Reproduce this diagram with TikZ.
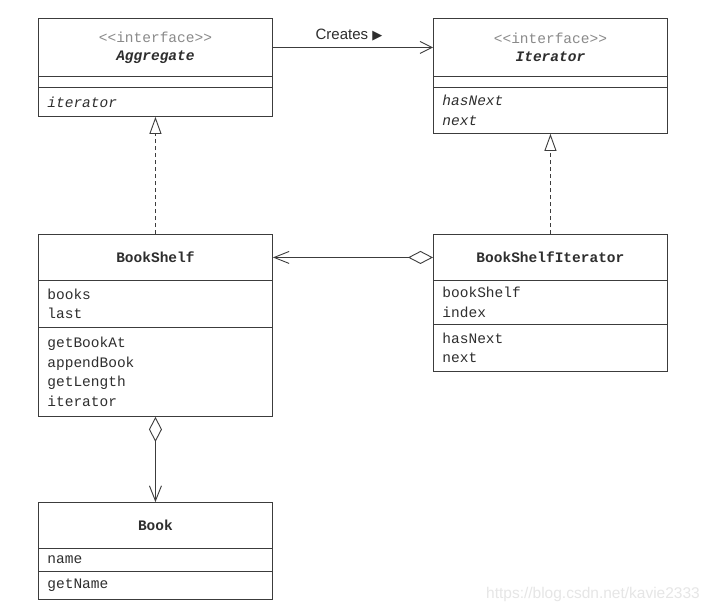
\documentclass[tikz,border=0pt]{standalone}
\usepackage{fontspec}
\setmainfont{Liberation Sans}
\setmonofont{Liberation Mono}
\newfontfamily\symfont{DejaVu Sans}
\usetikzlibrary{arrows.meta}
\definecolor{ink}{HTML}{3C3C3C}
\definecolor{txt}{HTML}{2E2E2E}
\definecolor{stereo}{HTML}{8A8A8A}
\definecolor{wmark}{HTML}{E6E6E6}
\begin{document}
\begin{tikzpicture}[x=1pt,y=-1pt,
  comp/.style={draw=ink, line width=0.9pt, rectangle, inner sep=0pt,
    minimum width=234pt, anchor=north west, text=txt,
    font=\ttfamily\fontsize{14.5}{18}\selectfont},
  head/.style={comp, align=center},
  list/.style={comp, align=left, text width=216pt, inner xsep=9pt,
    font=\ttfamily\fontsize{14.5}{19.5}\selectfont},
  assoc/.style={draw=ink, line width=0.9pt, -{Straight Barb[length=12pt,width=12pt]}},
  realize/.style={draw=ink, line width=0.9pt, dash pattern=on 4pt off 3pt,
    -{Triangle[open,length=17pt,width=12pt,fill=white]}},
  aggr/.style={draw=ink, line width=0.9pt,
    {Diamond[open,length=25pt,width=13pt,fill=white]}-{Straight Barb[length=15pt,width=12pt]}},
  lbl/.style={text=txt, font=\fontsize{15}{18}\selectfont},
  wm/.style={text=wmark, font=\fontsize{15.5}{18}\selectfont}
]
\useasboundingbox (0,0) rectangle (713,613);
\fill[white] (0,0) rectangle (713,613);

% Aggregate
\node[head, minimum height=58pt] (aggH) at (38,18)
  {{\color{stereo}<<interface>>}\\{\bfseries\itshape Aggregate}};
\node[comp, minimum height=11pt] (aggA) at (38,76) {};
\node[list, minimum height=29pt] (aggM) at (38,87) {\itshape iterator};

% Iterator
\node[head, minimum height=58pt] (itH) at (433,18)
  {{\color{stereo}<<interface>>}\\{\bfseries\itshape Iterator}};
\node[comp, minimum height=11pt] (itA) at (433,76) {};
\node[list, minimum height=46pt] (itM) at (433,87) {\itshape hasNext\\\itshape next};

% BookShelf
\node[head, minimum height=46pt] (bsH) at (38,234) {\bfseries BookShelf};
\node[list, minimum height=47pt] (bsA) at (38,280) {books\\last};
\node[list, minimum height=89pt] (bsM) at (38,327) {getBookAt\\appendBook\\getLength\\iterator};

% BookShelfIterator
\node[head, minimum height=46pt] (bsiH) at (433,234) {\bfseries BookShelfIterator};
\node[list, minimum height=44pt] (bsiA) at (433,280) {bookShelf\\index};
\node[list, minimum height=47pt] (bsiM) at (433,324) {hasNext\\next};

% Book
\node[head, minimum height=46pt] (bookH) at (38,502) {\bfseries Book};
\node[list, minimum height=23pt] (bookA) at (38,548) {name};
\node[list, minimum height=28pt] (bookM) at (38,571) {getName};

% connectors
\draw[assoc] (aggH.east) -- (itH.west)
  node[lbl, midway, yshift=12pt, xshift=-4pt] {Creates {\symfont\fontsize{13}{14}\selectfont ▶}};
\draw[realize] (bsH.north) -- (aggM.south);
\draw[realize] (bsiH.north) -- (itM.south);
\draw[aggr] (bsiH.west) -- (bsH.east);
\draw[aggr] (bsM.south) -- (bookH.north);

% watermark
\node[wm] (wmk) at (593,594) {https://blog.csdn.net/kavie2333};
\end{tikzpicture}
\end{document}
